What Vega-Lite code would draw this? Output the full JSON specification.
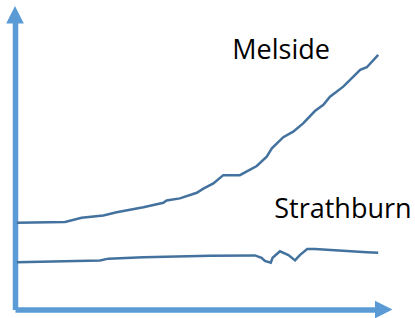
{
  "$schema": "https://vega.github.io/schema/vega-lite/v6.json",
  "width": 368,
  "height": 294,
  "autosize": {"type": "none"},
  "padding": {"left": 15, "top": 15.5, "right": 32, "bottom": 8.5},
  "background": "white",
  "config": {"view": {"stroke": null}},
  "datasets": {
    "series": [
      {"town": "Melside", "t": 0.5, "v": 29.5},
      {"town": "Melside", "t": 13.6, "v": 29.8},
      {"town": "Melside", "t": 18.1, "v": 31.2},
      {"town": "Melside", "t": 24.0, "v": 32.0},
      {"town": "Melside", "t": 27.6, "v": 33.1},
      {"town": "Melside", "t": 34.9, "v": 34.8},
      {"town": "Melside", "t": 40.3, "v": 36.3},
      {"town": "Melside", "t": 41.2, "v": 37.1},
      {"town": "Melside", "t": 44.8, "v": 37.8},
      {"town": "Melside", "t": 49.4, "v": 39.7},
      {"town": "Melside", "t": 51.2, "v": 41.1},
      {"town": "Melside", "t": 53.9, "v": 42.9},
      {"town": "Melside", "t": 56.6, "v": 45.7},
      {"town": "Melside", "t": 61.1, "v": 45.7},
      {"town": "Melside", "t": 65.7, "v": 48.8},
      {"town": "Melside", "t": 68.4, "v": 52.0},
      {"town": "Melside", "t": 69.8, "v": 54.8},
      {"town": "Melside", "t": 72.9, "v": 58.6},
      {"town": "Melside", "t": 75.6, "v": 60.5},
      {"town": "Melside", "t": 78.3, "v": 63.3},
      {"town": "Melside", "t": 81.5, "v": 67.5},
      {"town": "Melside", "t": 83.8, "v": 69.6},
      {"town": "Melside", "t": 85.6, "v": 72.4},
      {"town": "Melside", "t": 89.2, "v": 75.8},
      {"town": "Melside", "t": 93.8, "v": 81.5},
      {"town": "Melside", "t": 95.6, "v": 82.4},
      {"town": "Melside", "t": 98.7, "v": 86.6},
      {"town": "Strathburn", "t": 0.5, "v": 16.1},
      {"town": "Strathburn", "t": 23.1, "v": 16.7},
      {"town": "Strathburn", "t": 25.4, "v": 17.3},
      {"town": "Strathburn", "t": 34.9, "v": 17.8},
      {"town": "Strathburn", "t": 53.0, "v": 18.3},
      {"town": "Strathburn", "t": 65.2, "v": 18.4},
      {"town": "Strathburn", "t": 67.0, "v": 17.6},
      {"town": "Strathburn", "t": 67.9, "v": 16.5},
      {"town": "Strathburn", "t": 69.5, "v": 15.9},
      {"town": "Strathburn", "t": 70.0, "v": 17.6},
      {"town": "Strathburn", "t": 72.0, "v": 19.8},
      {"town": "Strathburn", "t": 74.3, "v": 18.5},
      {"town": "Strathburn", "t": 76.1, "v": 16.7},
      {"town": "Strathburn", "t": 77.4, "v": 18.5},
      {"town": "Strathburn", "t": 79.4, "v": 20.6},
      {"town": "Strathburn", "t": 81.5, "v": 20.6},
      {"town": "Strathburn", "t": 95.6, "v": 19.5},
      {"town": "Strathburn", "t": 98.7, "v": 19.3}
    ],
    "labels": [
      {"town": "Melside", "t": 72.3, "v": 85.2},
      {"town": "Strathburn", "t": 89.1, "v": 31.0}
    ],
    "arrows": [
      {"dir": "up", "t": 0, "v": 100},
      {"dir": "right", "t": 100, "v": 0}
    ]
  },
  "encoding": {
    "x": {"field": "t", "type": "quantitative", "scale": {"domain": [0, 100], "nice": false, "zero": false},
      "axis": {"title": null, "labels": false, "ticks": false, "grid": false, "domainColor": "#5B9BD5", "domainWidth": 5.5, "domainCap": "butt"}},
    "y": {"field": "v", "type": "quantitative", "scale": {"domain": [0, 100], "nice": false, "zero": false},
      "axis": {"title": null, "labels": false, "ticks": false, "grid": false, "domainColor": "#5B9BD5", "domainWidth": 5.5, "domainCap": "butt"}}
  },
  "layer": [
    {
      "data": {"name": "series"},
      "mark": {"type": "line", "color": "#44729F", "strokeWidth": 2.5, "interpolate": "linear"},
      "encoding": {"detail": {"field": "town"}}
    },
    {
      "data": {"name": "labels"},
      "mark": {"type": "text", "font": "Open Sans", "fontSize": 27, "align": "center", "baseline": "alphabetic", "color": "#000000"},
      "encoding": {"text": {"field": "town"}}
    },
    {
      "data": {"name": "arrows"},
      "transform": [{"filter": "datum.dir === 'up'"}],
      "mark": {"type": "point", "shape": "M0,-1L0.93,0.84L-0.93,0.84Z", "size": 361, "filled": true, "color": "#5B9BD5", "opacity": 1, "strokeWidth": 0}
    },
    {
      "data": {"name": "arrows"},
      "transform": [{"filter": "datum.dir === 'right'"}],
      "mark": {"type": "point", "shape": "M1,0L-0.84,0.93L-0.84,-0.93Z", "size": 361, "filled": true, "color": "#5B9BD5", "opacity": 1, "strokeWidth": 0}
    }
  ]
}
